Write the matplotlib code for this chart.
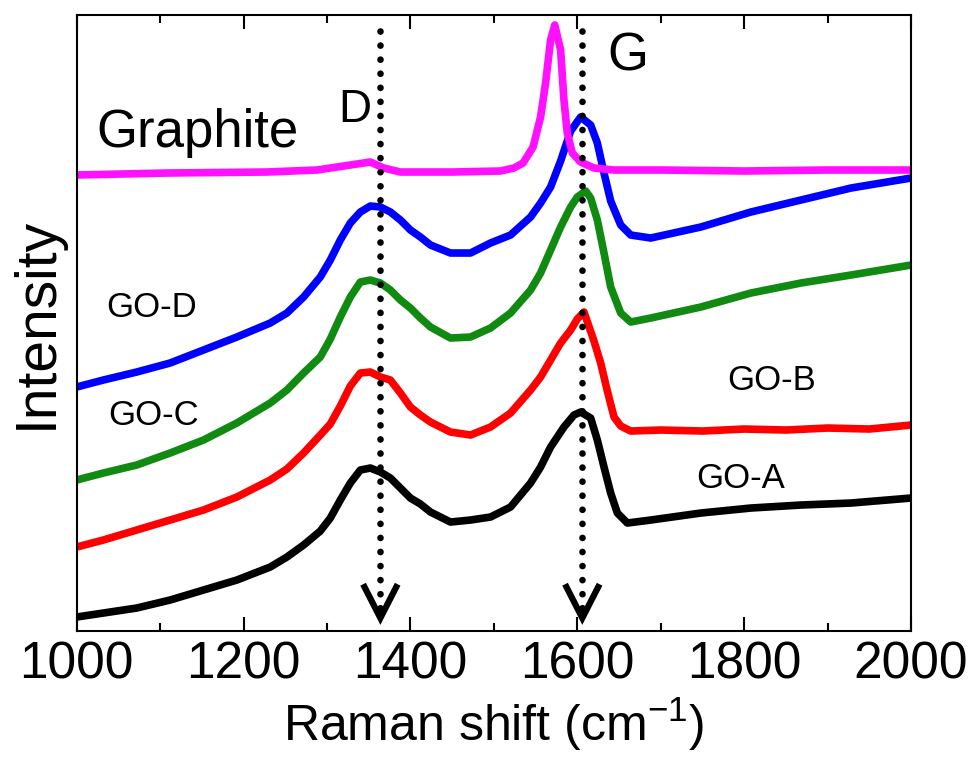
import matplotlib
matplotlib.use("Agg")
import matplotlib.pyplot as plt
from matplotlib.ticker import MultipleLocator, NullLocator

plt.rcParams['font.family'] = ['Liberation Sans', 'DejaVu Sans']
plt.rcParams['mathtext.default'] = 'regular'

# Raman spectra (arbitrary intensity units, offset stacked)
graphite_x = [1000, 1108, 1228, 1288, 1328, 1352, 1368, 1388, 1450, 1508, 1524, 1535, 1547,
              1556, 1562, 1568, 1573, 1580, 1584, 1588, 1594, 1604, 1620, 1644, 1700, 1800,
              1900, 2000]
graphite_y = [456, 458, 459, 461, 466, 469, 463, 459, 459, 460, 463, 468, 484,
              514, 548, 591, 606, 581, 531, 498, 478, 469, 463, 461, 461, 460,
              461, 461]

god_x = [1000, 1032, 1072, 1112, 1152, 1192, 1232, 1252, 1272, 1292, 1304, 1316, 1328,
         1340, 1352, 1364, 1376, 1388, 1400, 1412, 1424, 1448, 1472, 1496, 1520, 1544,
         1556, 1568, 1580, 1592, 1604, 1616, 1624, 1632, 1640, 1652, 1664, 1688, 1748,
         1808, 1868, 1928, 2000]
god_y = [244, 251, 259, 268, 281, 294, 308, 318, 334, 354, 371, 391, 408,
         419, 425, 424, 419, 411, 401, 394, 386, 378, 378, 388, 396, 414,
         428, 444, 470, 500, 514, 506, 488, 458, 430, 406, 396, 393, 404,
         419, 431, 443, 453]

goc_x = [1000, 1032, 1072, 1112, 1152, 1192, 1232, 1252, 1272, 1292, 1304, 1316, 1328,
         1340, 1352, 1364, 1376, 1388, 1400, 1412, 1424, 1448, 1472, 1496, 1520, 1544,
         1556, 1568, 1580, 1592, 1600, 1610, 1616, 1624, 1632, 1640, 1652, 1664, 1688,
         1748, 1808, 1868, 1928, 2000]
goc_y = [151, 158, 166, 178, 191, 208, 228, 241, 258, 274, 292, 314, 334,
         349, 351, 348, 341, 331, 323, 313, 304, 293, 294, 303, 318, 341,
         358, 381, 404, 424, 434, 440, 433, 411, 378, 344, 318, 309, 313,
         324, 338, 348, 356, 366]

gob_x = [1000, 1032, 1072, 1112, 1152, 1192, 1232, 1252, 1272, 1292, 1304, 1316, 1328,
         1340, 1352, 1364, 1376, 1388, 1400, 1412, 1424, 1448, 1472, 1496, 1520, 1544,
         1556, 1568, 1580, 1592, 1600, 1608, 1620, 1628, 1636, 1644, 1652, 1664, 1700,
         1750, 1800, 1850, 1900, 1950, 2000]
gob_y = [84, 91, 101, 111, 121, 134, 151, 162, 178, 196, 207, 225, 245,
         258, 259, 254, 251, 238, 224, 216, 209, 199, 196, 204, 218, 241,
         254, 271, 288, 301, 312, 319, 290, 268, 240, 214, 205, 200, 201,
         200, 202, 201, 203, 202, 206]

goa_x = [1000, 1032, 1072, 1112, 1152, 1192, 1232, 1252, 1272, 1292, 1304, 1316, 1328,
         1340, 1352, 1364, 1376, 1388, 1400, 1412, 1424, 1448, 1472, 1496, 1520, 1544,
         1556, 1568, 1584, 1596, 1604, 1616, 1624, 1632, 1640, 1648, 1660, 1688, 1748,
         1808, 1868, 1928, 2000]
goa_y = [14, 18, 23, 31, 41, 51, 64, 74, 86, 100, 113, 131, 148,
         161, 163, 159, 153, 143, 133, 127, 119, 109, 111, 114, 124, 148,
         164, 184, 204, 216, 219, 213, 191, 164, 138, 118, 108, 111, 118,
         123, 126, 128, 133]

d_band = 1364
g_band = 1606

fig = plt.figure(figsize=(9.76, 7.58), dpi=100)
ax = fig.add_axes([0.0785, 0.1675, 0.855, 0.8127])

lw = 5.5
ax.plot(goa_x, goa_y, color='black', lw=lw, solid_joinstyle='round')
ax.plot(gob_x, gob_y, color='#ff0000', lw=lw, solid_joinstyle='round')
ax.plot(goc_x, goc_y, color='#108a10', lw=lw, solid_joinstyle='round')
ax.plot(god_x, god_y, color='#0000ff', lw=lw, solid_joinstyle='round')
ax.plot(graphite_x, graphite_y, color='#ff10ff', lw=lw, solid_joinstyle='round')

# dotted guide lines with open arrow heads
for xb in (d_band, g_band):
    ax.plot([xb, xb], [600, 14], color='black', lw=4.8,
            linestyle=(0, (0.01, 2.1)), dash_capstyle='round', zorder=5)
    ax.plot([xb - 19, xb, xb + 19], [44, 13, 44], color='black', lw=4.5,
            solid_joinstyle='miter', zorder=5)

ax.text(1024, 484, 'Graphite', fontsize=38)
ax.text(1313, 509, 'D', fontsize=33)
ax.text(1636, 561, 'G', fontsize=38)
ax.text(1036, 314, 'GO-D', fontsize=25)
ax.text(1038, 206, 'GO-C', fontsize=25)
ax.text(1780, 241, 'GO-B', fontsize=25)
ax.text(1743, 143, 'GO-A', fontsize=25)

ax.set_xlim(1000, 2000)
ax.set_ylim(0, 616)
ax.xaxis.set_major_locator(MultipleLocator(200))
ax.xaxis.set_minor_locator(MultipleLocator(100))
ax.yaxis.set_major_locator(NullLocator())
ax.tick_params(axis='x', which='major', direction='in', length=10, width=1.5,
               top=True, labelsize=37, pad=7)
ax.tick_params(axis='x', which='minor', direction='in', length=6, width=1.5, top=True)
for s in ax.spines.values():
    s.set_linewidth(1.5)

ax.set_xlabel('Raman shift (cm$^{-1}$)', fontsize=36, labelpad=4)
ax.set_ylabel('Intensity', fontsize=41, labelpad=9)

fig.savefig('out.png', dpi=100)
